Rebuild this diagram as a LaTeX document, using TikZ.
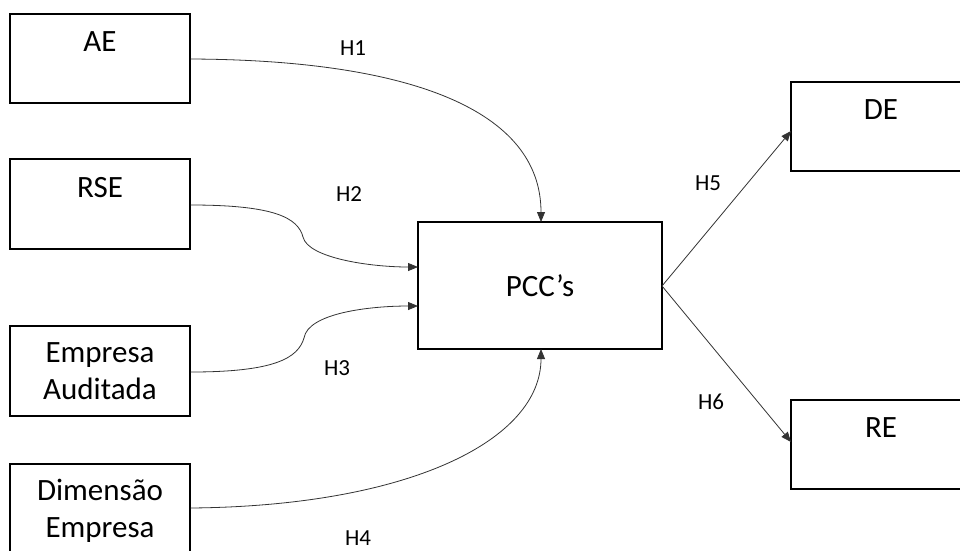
\documentclass[tikz,border=0pt]{standalone}
\usepackage{fontspec}
\setmainfont{Carlito}
\usetikzlibrary{arrows.meta}
\begin{document}
\begin{tikzpicture}[x=1pt,y=-1pt,
  box/.style={draw=black,line width=1.4pt,rectangle,inner sep=0pt},
  boxtext/.style={anchor=base,align=center,inner sep=0pt,font=\fontsize{31}{37}\selectfont},
  hyp/.style={anchor=base,inner sep=0pt,font=\fontsize{23}{27}\selectfont},
  link/.style={draw=black!80,line width=0.8pt,-{Triangle[length=10pt,width=8pt]}}]
\useasboundingbox (0,0) rectangle (960,550);
\clip (0,0) rectangle (960,550);
\fill[white] (0,0) rectangle (960,550);

% boxes
\node[box,minimum width=180pt,minimum height=89pt] (ae)  at (100,58.5) {};
\node[box,minimum width=180pt,minimum height=90pt] (rse) at (100,204) {};
\node[box,minimum width=180pt,minimum height=90pt] (aud) at (100,371) {};
\node[box,minimum width=180pt,minimum height=90pt] (dim) at (100,509) {};
\node[box,minimum width=244pt,minimum height=127pt] (pcc) at (540,285.5) {};
\node[box,minimum width=180pt,minimum height=89pt] (de)  at (881,126.5) {};
\node[box,minimum width=180pt,minimum height=89pt] (re)  at (881,444.5) {};

% box texts (base anchor = baseline of the last line)
\node[boxtext] (aeT)  at (100,51) {AE};
\node[boxtext] (rseT) at (100,197) {RSE};
\node[boxtext] (audT) at (100,399) {Empresa\\Auditada};
\node[boxtext] (dimT) at (100,537) {Dimensão\\Empresa};
\node[boxtext] (pccT) at (540,296) {PCC’s};
\node[boxtext] (deT)  at (881,119) {DE};
\node[boxtext] (reT)  at (881,437) {RE};

% connector end points
\coordinate (aeO)  at (ae.east |- 0,59);
\coordinate (rseO) at (rse.east |- 0,205);
\coordinate (audO) at (aud.east |- 0,372);
\coordinate (dimO) at (dim.east |- 0,508);
\coordinate (pccT1) at (541,222);
\coordinate (pccB1) at (541,349);
\coordinate (pccL1) at (418,267);
\coordinate (pccL2) at (418,306);
\coordinate (pccR)  at (662,286);
\coordinate (deI) at (791,131);
\coordinate (reI) at (791,442);
\coordinate (k2) at (303,237);
\coordinate (k3) at (304,338);

% connectors
\draw[link] (aeO) .. controls (410,60) and (541,110) .. (pccT1);
\draw[link] (rseO) .. controls (275,205) and (298,218) .. (k2)
  .. controls (308,258) and (370,267) .. (pccL1);
\draw[link] (audO) .. controls (275,372) and (298,358) .. (k3)
  .. controls (308,313) and (370,306) .. (pccL2);
\draw[link] (dimO) .. controls (410,506) and (541,440) .. (pccB1);
\draw[link] (pccR) -- (deI);
\draw[link] (pccR) -- (reI);

% hypothesis labels
\node[hyp] (h1) at (353,55) {H1};
\node[hyp] (h2) at (349,201) {H2};
\node[hyp] (h3) at (337,375) {H3};
\node[hyp] (h4) at (358,545) {H4};
\node[hyp] (h5) at (708,190) {H5};
\node[hyp] (h6) at (711,409) {H6};
\end{tikzpicture}
\end{document}
